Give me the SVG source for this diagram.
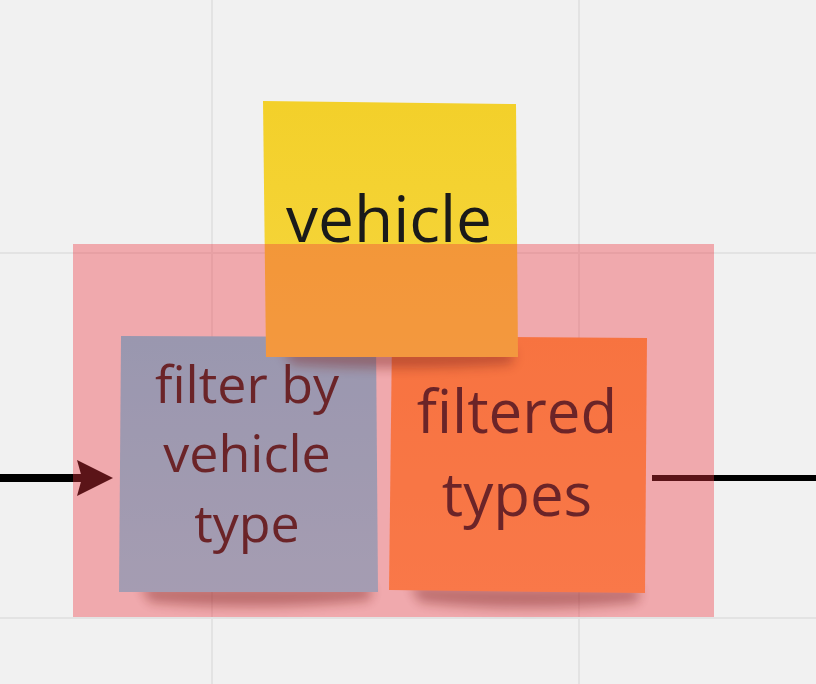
<svg xmlns="http://www.w3.org/2000/svg" width="816" height="684" viewBox="0 0 816 684">
<style>
.grid{stroke:#e3e3e3;stroke-width:2;fill:none}
.txt{font-family:"Open Sans","Noto Sans",sans-serif;fill:#1a1a1a;text-anchor:middle}
.shadow{fill:#3a1a10;opacity:0.45;filter:url(#blur)}
.conn{stroke:#000;fill:none}
</style>
<defs>
<filter id="blur" x="-20%" y="-200%" width="140%" height="500%"><feGaussianBlur stdDeviation="6"/></filter>
<linearGradient id="gY" x1="0" y1="0" x2="0" y2="1"><stop offset="0" stop-color="#f3d02a"/><stop offset="1" stop-color="#f6d63f"/></linearGradient>
<linearGradient id="gC" x1="0" y1="0" x2="0" y2="1"><stop offset="0" stop-color="#66d4f4"/><stop offset="1" stop-color="#78dcf8"/></linearGradient>
<linearGradient id="gO" x1="0" y1="0" x2="0" y2="1"><stop offset="0" stop-color="#fc9a42"/><stop offset="1" stop-color="#ffa24f"/></linearGradient>
</defs>
<rect x="0" y="0" width="816" height="684" fill="#f1f1f1"/>
<g id="grid">
<line class="grid" x1="212" y1="0" x2="212" y2="684"/>
<line class="grid" x1="579" y1="0" x2="579" y2="684"/>
<line class="grid" x1="0" y1="253" x2="816" y2="253"/>
<line class="grid" x1="0" y1="618" x2="816" y2="618"/>
</g>
<g id="connectors">
<line class="conn" x1="0" y1="478" x2="84" y2="478" stroke-width="8"/>
<polygon points="113,478 77,460 82,478 77,496" fill="#000"/>
<line class="conn" x1="652" y1="478" x2="816" y2="478" stroke-width="6"/>
</g>
<g id="note-filter">
<path class="shadow" d="M140,586 L372,586 L370,600 Q260,612 150,602 Z"/>
<polygon points="121,336 376,337 378,592 119,592" fill="url(#gC)"/>
<text class="txt" font-size="52" x="247" y="403">filter by</text>
<text class="txt" font-size="52" x="247" y="472">vehicle</text>
<text class="txt" font-size="52" x="247" y="542">type</text>
</g>
<g id="note-filtered">
<path class="shadow" d="M410,586 L640,588 L638,602 Q525,614 420,602 Z"/>
<polygon points="392,336 647,338 645,593 389,590" fill="url(#gO)"/>
<text class="txt" font-size="60" x="517" y="433">filtered</text>
<text class="txt" font-size="60" x="517" y="516">types</text>
</g>
<g id="note-vehicle">
<path class="shadow" d="M282,350 L514,350 L512,364 Q400,372 292,364 Z"/>
<polygon points="263,101 516,104 518,357 266,357" fill="url(#gY)"/>
<text class="txt" font-size="64" x="389" y="242">vehicle</text>
</g>
<g id="highlight">
<rect x="73" y="244" width="641" height="373" fill="#f0343f" opacity="0.38"/>
</g>
</svg>
